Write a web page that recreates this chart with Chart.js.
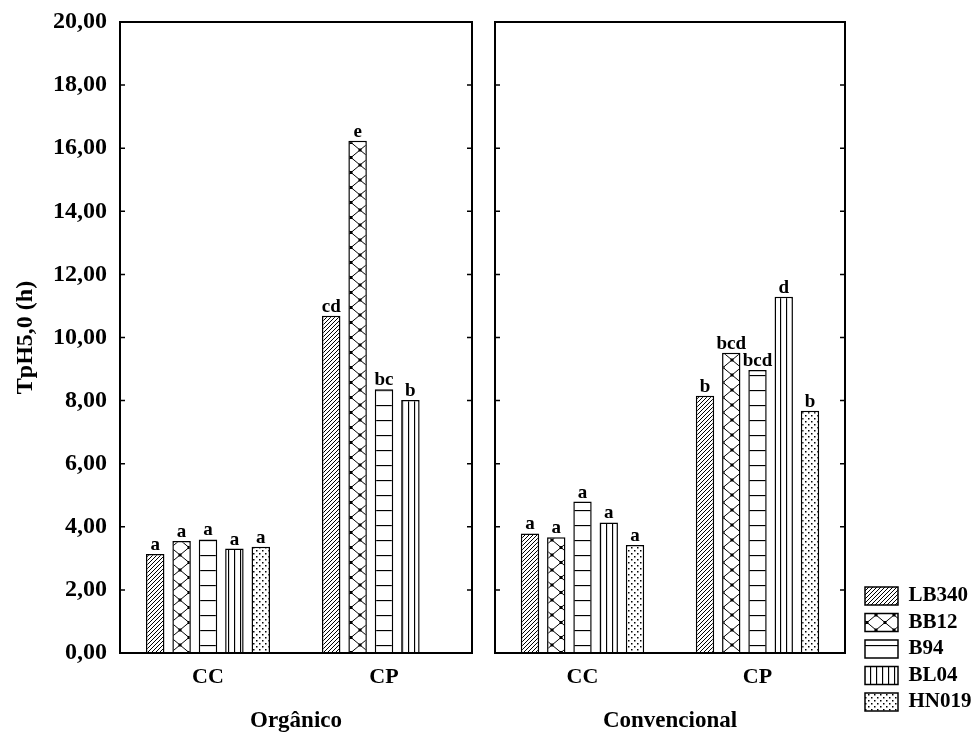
<!DOCTYPE html>
<html>
<head>
<meta charset="utf-8">
<script src="https://cdn.jsdelivr.net/npm/chart.js@4.4.0/dist/chart.umd.min.js"></script>
<style>
  body { margin: 0; background: #fff; overflow: hidden; }
  #wrap { position: relative; width: 976px; height: 736px; overflow: hidden; }
  canvas { position: absolute; top: 0; }
</style>
</head>
<body>
<div id="wrap">
  <canvas id="organico" width="480" height="736" style="left:0"></canvas>
  <canvas id="convencional" width="504" height="736" style="left:480px"></canvas>
</div>
<script>
const cultivares = ['LB340', 'BB12', 'B94', 'BL04', 'HN019'];
const sistemas = ['CC', 'CP'];
const yTicks = [0, 2, 4, 6, 8, 10, 12, 14, 16, 18, 20];

// Orgânico
const organicoCC = [3.14, 3.55, 3.60, 3.31, 3.37];
const organicoCP = [10.69, 16.24, 8.36, 8.02, null];
const organicoCCLetras = ['a', 'a', 'a', 'a', 'a'];
const organicoCPLetras = ['cd', 'e', 'bc', 'b', ''];

// Convencional
const convencionalCC = [3.79, 3.67, 4.80, 4.14, 3.42];
const convencionalCP = [8.15, 9.52, 8.97, 11.29, 7.68];
const convencionalCCLetras = ['a', 'a', 'a', 'a', 'a'];
const convencionalCPLetras = ['b', 'bcd', 'bcd', 'd', 'b'];

const SERIF = '"Liberation Serif", "Times New Roman", serif';
Chart.defaults.font.family = SERIF;
Chart.defaults.font.weight = 'bold';
Chart.defaults.color = '#000';

// hatch fills, one per cultivar
function makePattern(kind) {
    const c = document.createElement('canvas');
    const sizes = { diag: [4, 4], cross: [18, 15], horiz: [4, 15], vert: [6, 4], dots: [6, 6] };
    const [w, h] = sizes[kind];
    c.width = w; c.height = h;
    const g = c.getContext('2d');
    g.fillStyle = '#fff';
    g.fillRect(0, 0, w, h);
    g.strokeStyle = '#000';
    g.fillStyle = '#000';
    g.lineWidth = 1;
    g.beginPath();
    if (kind === 'diag') {
        g.moveTo(0, h); g.lineTo(w, 0);
        g.moveTo(-1, 1); g.lineTo(1, -1);
        g.moveTo(w - 1, h + 1); g.lineTo(w + 1, h - 1);
        g.stroke();
    } else if (kind === 'cross') {
        g.moveTo(0, 0); g.lineTo(w, h);
        g.moveTo(w, 0); g.lineTo(0, h);
        g.stroke();
        [[0, 0], [w, 0], [0, h], [w, h], [w / 2, h / 2]].forEach(([x, y]) => {
            g.fillRect(x - 1.5, y - 1.5, 3, 3);
        });
    } else if (kind === 'horiz') {
        g.lineWidth = 1.3;
        g.moveTo(0, 0.5); g.lineTo(w, 0.5);
        g.stroke();
    } else if (kind === 'vert') {
        g.lineWidth = 1.3;
        g.moveTo(0.5, 0); g.lineTo(0.5, h);
        g.stroke();
    } else if (kind === 'dots') {
        g.fillRect(1, 1, 1.5, 1.5);
        g.fillRect(4, 4, 1.5, 1.5);
    }
    return g.createPattern(c, 'repeat');
}

const padroes = ['diag', 'cross', 'horiz', 'vert', 'dots'].map(makePattern);

function buildDatasets(cc, cp) {
    return cultivares.map((nome, i) => ({
        label: nome,
        data: [cc[i], cp[i]],
        backgroundColor: padroes[i],
        borderColor: '#000',
        borderWidth: 1.5,
        categoryPercentage: 0.75,
        barPercentage: 0.7
    }));
}

// box around the panel + inward ticks on both sides
const framePlugin = {
    id: 'frame',
    afterDatasetsDraw(chart) {
        const { ctx, chartArea: a, scales: { y } } = chart;
        ctx.save();
        ctx.strokeStyle = '#000';
        ctx.lineWidth = 2;
        ctx.strokeRect(a.left, a.top, a.right - a.left, a.bottom - a.top);
        ctx.lineWidth = 1.5;
        ctx.beginPath();
        yTicks.forEach(v => {
            const py = y.getPixelForValue(v);
            ctx.moveTo(a.left, py); ctx.lineTo(a.left + 5, py);
            ctx.moveTo(a.right - 5, py); ctx.lineTo(a.right, py);
        });
        ctx.stroke();
        ctx.restore();
    }
};

// significance letters above the bars
function letrasPlugin(ccLetras, cpLetras) {
    return {
        id: 'letras',
        afterDatasetsDraw(chart) {
            const ctx = chart.ctx;
            ctx.save();
            ctx.font = 'bold 19px ' + SERIF;
            ctx.fillStyle = '#000';
            ctx.textAlign = 'center';
            ctx.textBaseline = 'alphabetic';
            chart.data.datasets.forEach((ds, i) => {
                chart.getDatasetMeta(i).data.forEach((bar, j) => {
                    const txt = (j === 0 ? ccLetras : cpLetras)[i];
                    if (!txt || ds.data[j] == null) return;
                    ctx.fillText(txt, bar.x, bar.y - 4);
                });
            });
            ctx.restore();
        }
    };
}

function xScale(titulo) {
    return {
        grid: { display: false, drawTicks: false },
        border: { display: false },
        ticks: { font: { size: 22, weight: 'bold' }, padding: 11 },
        title: {
            display: true,
            text: titulo,
            font: { size: 23, weight: 'bold' },
            padding: { top: 0, bottom: -16.5 }
        },
        afterFit(s) { s.height = 65; }
    };
}

function setTicks(s) {
    s.ticks = yTicks.map(v => ({ value: v }));
}

function noEdgePadding(s) {
    s.paddingTop = 0;
    s.paddingBottom = 0;
}

new Chart(document.getElementById('organico'), {
    type: 'bar',
    data: { labels: sistemas, datasets: buildDatasets(organicoCC, organicoCP) },
    options: {
        responsive: false,
        animation: false,
        layout: { padding: { top: 22, right: 8, bottom: 18, left: 0 } },
        plugins: { legend: { display: false }, tooltip: { enabled: false } },
        scales: {
            x: xScale('Orgânico'),
            y: {
                min: 0,
                max: 20,
                afterBuildTicks: setTicks,
                grid: { display: false, drawTicks: false },
                border: { display: false },
                ticks: {
                    font: { size: 24, weight: 'bold' },
                    padding: 13,
                    callback: v => v.toFixed(2).replace('.', ',')
                },
                title: {
                    display: true,
                    text: 'TpH5,0 (h)',
                    font: { size: 24, weight: 'bold' },
                    padding: { top: 11, bottom: 0 }
                },
                afterFit(s) { s.width = 120; noEdgePadding(s); }
            }
        }
    },
    plugins: [framePlugin, letrasPlugin(organicoCCLetras, organicoCPLetras)]
});

new Chart(document.getElementById('convencional'), {
    type: 'bar',
    data: { labels: sistemas, datasets: buildDatasets(convencionalCC, convencionalCP) },
    options: {
        responsive: false,
        animation: false,
        layout: { padding: { top: 22, right: 2.5, bottom: 18, left: 0 } },
        plugins: {
            tooltip: { enabled: false },
            legend: {
                position: 'right',
                align: 'end',
                labels: {
                    boxWidth: 33,
                    boxHeight: 18,
                    padding: 5.5,
                    color: '#000',
                    font: { size: 21, weight: 'bold' }
                }
            }
        },
        scales: {
            x: xScale('Convencional'),
            y: {
                min: 0,
                max: 20,
                afterBuildTicks: setTicks,
                grid: { display: false, drawTicks: false },
                border: { display: false },
                ticks: { display: false },
                afterFit(s) { s.width = 15; noEdgePadding(s); }
            },
            // spacer between the panel and the legend
            gap: {
                type: 'linear',
                position: 'right',
                display: false,
                afterFit(s) { s.width = 14.5; }
            }
        }
    },
    plugins: [framePlugin, letrasPlugin(convencionalCCLetras, convencionalCPLetras)]
});
</script>
</body>
</html>
